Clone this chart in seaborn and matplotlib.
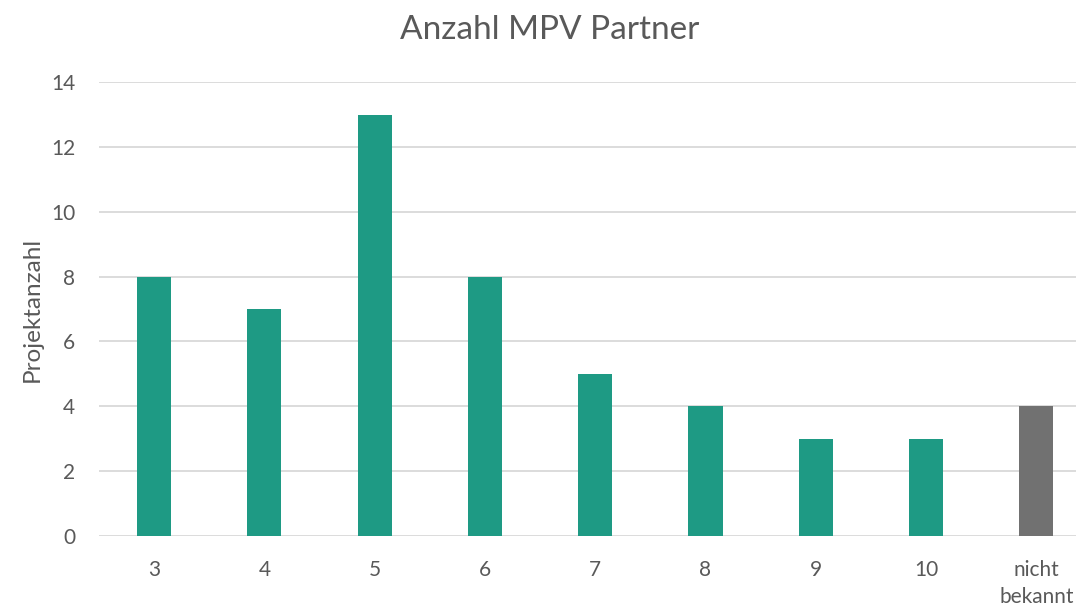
import matplotlib
matplotlib.use("Agg")
import matplotlib.pyplot as plt
import seaborn as sns

# data
categories = ["3", "4", "5", "6", "7", "8", "9", "10", "nicht\nbekannt"]
project_counts = [8, 7, 13, 8, 5, 4, 3, 3, 4]
bar_colors = ["#1E9A84"] * 8 + ["#717171"]
y_ticks = [0, 2, 4, 6, 8, 10, 12, 14]

text_color = "#595959"
grid_color = "#D9D9D9"

sns.set_style("white")
plt.rcParams["font.family"] = ["Lato", "DejaVu Sans"]

fig = plt.figure(figsize=(10.76, 6.06), dpi=100)
ax = fig.add_axes([0.092, 0.1155, 0.908, 0.749])

sns.barplot(x=categories, y=project_counts, hue=categories,
            palette=bar_colors, legend=False, width=0.31,
            saturation=1, linewidth=0, ax=ax, zorder=3)

ax.set_xlim(-0.5, 8.36)
ax.set_ylim(0, 14)
ax.set_yticks(y_ticks)
ax.yaxis.grid(True, color=grid_color, linewidth=1.3, zorder=0)
ax.set_axisbelow(True)
for side in ["top", "right", "left", "bottom"]:
    ax.spines[side].set_visible(False)

ax.tick_params(axis="both", length=0, labelsize=15, colors=text_color)
ax.tick_params(axis="x", pad=17)
ax.tick_params(axis="y", pad=17)
for lbl in ax.get_xticklabels():
    lbl.set_linespacing(1.45)
ax.set_xlabel("")
ax.set_ylabel("Projektanzahl", fontsize=17.5, color=text_color, labelpad=6)

fig.suptitle("Anzahl MPV Partner", fontsize=24, color=text_color,
             x=0.511, y=0.975)

fig.savefig("out.png", dpi=100)
plt.close(fig)
